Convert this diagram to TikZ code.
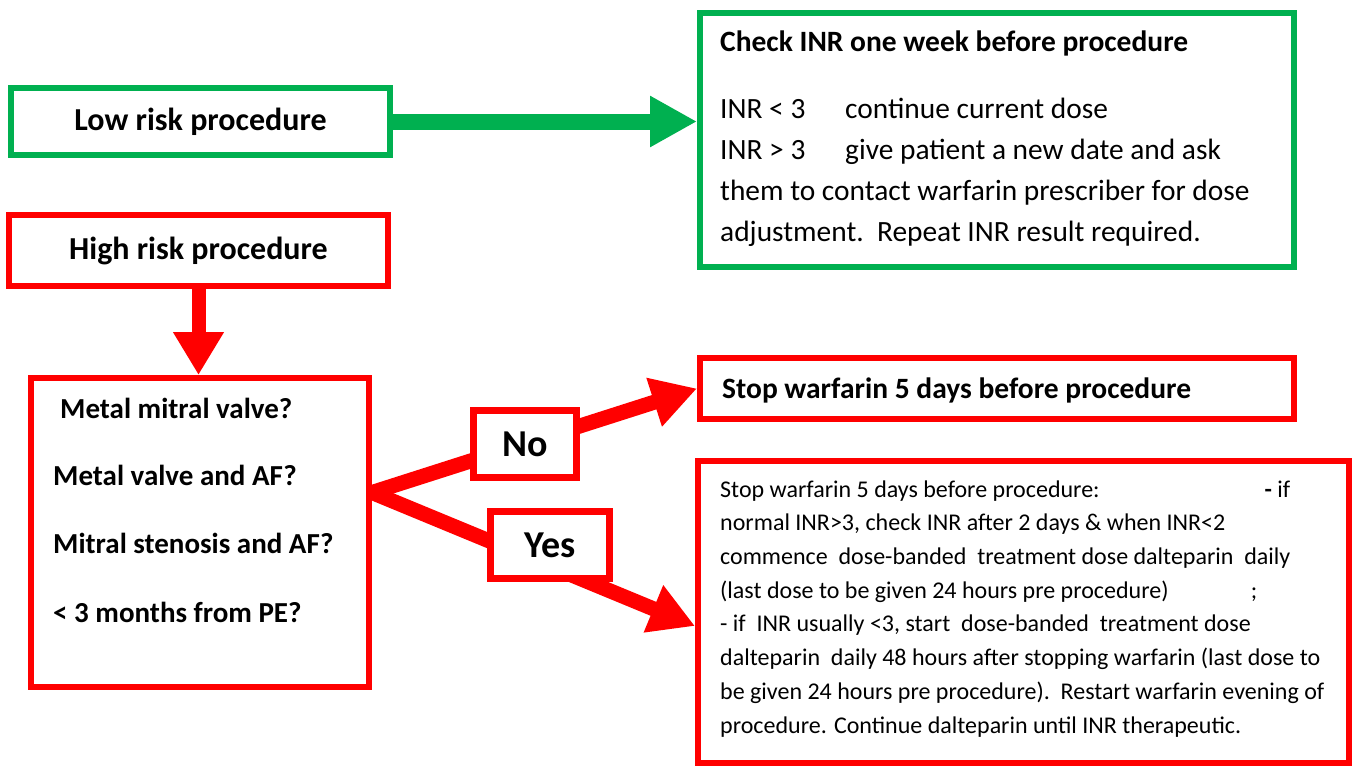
\documentclass[tikz,border=0pt]{standalone}
\usepackage{fontspec}
\setmainfont{Carlito}
\usetikzlibrary{arrows.meta}
\definecolor{gr}{HTML}{00B050}
\definecolor{rd}{HTML}{FF0000}
\begin{document}
\begin{tikzpicture}[x=1pt,y=-1pt,
  gbox/.style={draw=gr,line width=6pt,fill=white,inner sep=0pt,minimum width=#1},
  rbox/.style={draw=rd,line width=6pt,fill=white,inner sep=0pt,minimum width=#1},
  lbox/.style={draw=rd,line width=7pt,fill=white,inner sep=0pt,minimum width=#1,minimum height=67pt,
    font=\fontsize{38}{44}\selectfont\bfseries},
  boxlabel/.style={font=\fontsize{32}{38}\selectfont\bfseries},
  titletext/.style={anchor=base west,inner sep=0pt,font=\fontsize{29.5}{35}\selectfont\bfseries},
  qtext/.style={anchor=base west,inner sep=0pt,font=\fontsize{29}{34}\selectfont\bfseries},
  gbody/.style={anchor=base west,inner sep=0pt,align=left,font=\fontsize{29.4}{41}\selectfont},
  rbody/.style={anchor=base west,inner sep=0pt,align=left,font=\fontsize{24}{33.7}\selectfont},
  garrow/.style={draw=gr,line width=16pt,-{Triangle[length=47pt,width=48pt]}},
  rarrow/.style={draw=rd,line width=15pt,-{Triangle[length=45pt,width=48pt]}}]
\useasboundingbox (0,0) rectangle (1357,769);
\fill[white] (0,0) rectangle (1357,769);

% boxes
\node[gbox=379pt,minimum height=67pt,boxlabel] (low) at (200.5,121.5) {Low risk procedure};
\node[gbox=594pt,minimum height=254pt] (check) at (997,140) {};
\node[rbox=379pt,minimum height=71pt,boxlabel] (high) at (198.5,250.5) {High risk procedure};
\node[rbox=338pt,minimum height=309pt] (q) at (200,532.5) {};
\node[rbox=594pt,minimum height=61pt] (stop) at (997,388.5) {};
\node[rbox=651pt,minimum height=302pt] (big) at (1023.5,612) {};

% texts (base anchor = baseline of the last line)
\node[titletext] (checkt) at (720,51) {Check INR one week before procedure};
\node[gbody] (checkb) at (720,241) {\makebox[125pt][l]{INR < 3}continue current dose\\
\makebox[125pt][l]{INR > 3}give patient a new date and ask\\
them to contact warfarin prescriber for dose\\
adjustment.\ \ Repeat INR result required.};
\node[titletext] (stopt) at (722,398) {Stop warfarin 5 days before procedure};
\node[qtext] (q1) at (60,418) {Metal mitral valve?};
\node[qtext] (q2) at (53,485) {Metal valve and AF?};
\node[qtext] (q3) at (53,553) {Mitral stenosis and AF?};
\node[qtext] (q4) at (53,622) {< 3 months from PE?};
\node[rbody] (bigt) at (720,733) {\makebox[570pt][l]{Stop warfarin 5 days before procedure:\hfill\textbf{-} if}\\
normal INR>3, check INR after 2 days \& when INR<2\\
commence\ \ dose-banded\ \ treatment dose dalteparin\ \ daily\\
\makebox[537pt][l]{(last dose to be given 24 hours pre procedure)\hfill;}\\
- if\ \ INR usually <3, start\ \ dose-banded\ \ treatment dose\\
dalteparin\ \ daily 48 hours after stopping warfarin (last dose to\\
be given 24 hours pre procedure).\ \ Restart warfarin evening of\\
procedure. Continue dalteparin until INR therapeutic.};

% connectors
\draw[garrow] (low.east) -- (low.east -| check.west);
\draw[rarrow,line width=14pt,-{Triangle[length=43pt,width=48pt]}] (high.south) -- (high.south |- q.north);
\coordinate (fork) at ([yshift=40pt]q.east);
\coordinate (yesend) at ([yshift=-14pt]big.west);
\draw[rarrow] (fork) -- (stop.west);
\draw[rarrow] (fork) -- (yesend);

% labels on connectors
\node[lbox=103pt] (no) at (525,444) {No};
\node[lbox=119pt] (yes) at (550,545) {Yes};
\end{tikzpicture}
\end{document}
